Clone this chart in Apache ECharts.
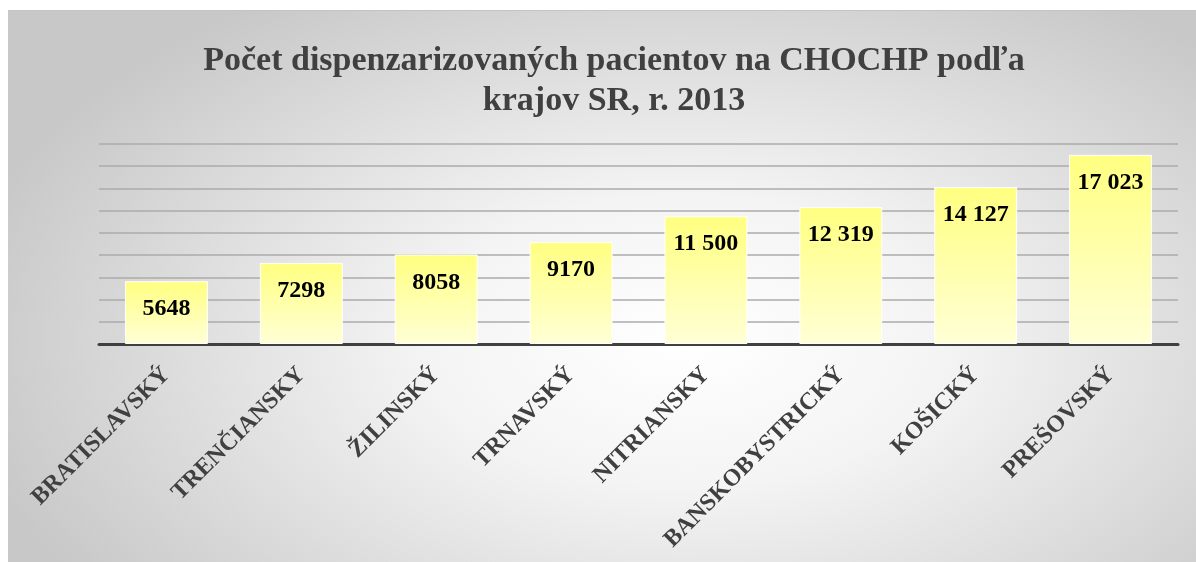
<!DOCTYPE html>
<html>
<head>
<meta charset="utf-8">
<script src="https://cdn.jsdelivr.net/npm/echarts@6/dist/echarts.min.js"></script>
<style>
  html, body { margin: 0; padding: 0; width: 1196px; height: 562px; background: #ffffff; overflow: hidden; }
  #bg { position: absolute; left: 8px; top: 10px; width: 1188px; height: 552px; box-sizing: border-box;
        border-top: 1px solid #c4c4c4;
        background: radial-gradient(ellipse 62% 75% at 57% 60%, #ffffff 0%, #f4f4f4 35%, #c8c8c8 100%); }
  #chart { position: absolute; left: 0; top: 0; width: 1196px; height: 562px; }
</style>
</head>
<body>
<div id="bg"></div>
<div id="chart"></div>
<script>
const titleText = 'Počet dispenzarizovaných pacientov na CHOCHP podľa\nkrajov SR, r. 2013';
const categories = ['BRATISLAVSKÝ', 'TRENČIANSKY', 'ŽILINSKÝ', 'TRNAVSKÝ', 'NITRIANSKY', 'BANSKOBYSTRICKÝ', 'KOŠICKÝ', 'PREŠOVSKÝ'];
const values = [5648, 7298, 8058, 9170, 11500, 12319, 14127, 17023];
const yMin = 0;
const yMax = 18000;
const yInterval = 2000;

function fmt(v) {
  if (v >= 10000) {
    const s = String(v);
    return s.slice(0, s.length - 3) + ' ' + s.slice(s.length - 3);
  }
  return String(v);
}

const serif = '"Liberation Serif", "Times New Roman", serif';
const chart = echarts.init(document.getElementById('chart'), null, { renderer: 'canvas' });
chart.setOption({
  backgroundColor: 'transparent',
  animation: false,
  title: {
    text: titleText,
    left: 609,
    top: 36,
    textAlign: 'center',
    textStyle: {
      fontFamily: serif,
      fontWeight: 'bold',
      fontSize: 34,
      lineHeight: 40,
      color: '#404040'
    }
  },
  grid: { left: 99, right: 18, top: 144, bottom: 218, containLabel: false },
  xAxis: {
    type: 'category',
    data: categories,
    axisLine: { show: true, lineStyle: { color: '#404040', width: 3 } },
    axisTick: { show: false },
    axisLabel: {
      rotate: 45,
      interval: 0,
      margin: 27,
      fontFamily: serif,
      fontWeight: 'bold',
      fontSize: 24,
      color: '#404040'
    }
  },
  yAxis: {
    type: 'value',
    min: yMin,
    max: yMax,
    interval: yInterval,
    axisLine: { show: false },
    axisTick: { show: false },
    axisLabel: { show: false },
    splitLine: { show: true, lineStyle: { color: '#ababab', width: 1.5 } }
  },
  series: [{
    type: 'bar',
    data: values,
    barCategoryGap: '38.5%',
    itemStyle: {
      color: new echarts.graphic.LinearGradient(0, 0, 0, 1, [
        { offset: 0, color: '#ffff80' },
        { offset: 1, color: '#ffffd6' }
      ]),
      borderColor: '#ffffff',
      borderWidth: 1
    },
    label: {
      show: true,
      position: 'insideTop',
      distance: 16,
      formatter: function (p) { return fmt(p.value); },
      fontFamily: serif,
      fontWeight: 'bold',
      fontSize: 24,
      color: '#000000'
    }
  }]
});
</script>
</body>
</html>
